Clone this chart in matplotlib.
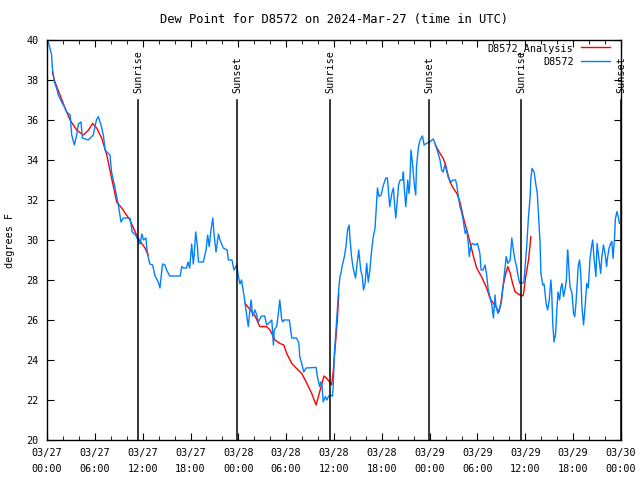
"""Dew point chart for station D8572"""
import matplotlib
matplotlib.use("Agg")
import matplotlib.pyplot as plt

# hours since 03/27 00:00 UTC
obs_hours = [0.16, 0.58, 0.67, 0.92, 1.2, 1.42, 1.84, 2.17, 2.47, 2.9, 3.1, 3.43, 3.72, 3.93,
             4.27, 4.43, 5.18, 5.8, 6.2, 6.44, 6.77, 7.07, 7.28, 7.9, 8.1, 8.53, 8.95, 9.28,
             9.57, 10.4, 10.7, 11.1, 11.67, 11.9, 12.1, 12.4, 12.6, 12.9, 13.25, 13.55, 13.96,
             14.17, 14.38, 14.5, 14.8, 15.0, 15.4, 16.7, 16.9, 17.1, 17.5, 17.7, 17.9, 18.15,
             18.35, 18.45, 18.65, 18.85, 19.0, 19.6, 19.95, 20.15, 20.35, 20.57, 20.8, 20.95,
             21.2, 21.5, 21.7, 22.1, 22.6, 22.75, 23.2, 23.45, 23.8, 24.0, 24.2, 24.4, 24.7,
             24.96, 25.1, 25.25, 25.5, 25.6, 25.8, 26.1, 26.3, 26.5, 26.9, 27.3, 27.55, 27.97,
             28.2, 28.4, 28.5, 28.8, 29.0, 29.2, 29.45, 29.6, 29.7, 30.4, 30.7, 31.3, 31.6,
             31.7, 31.95, 32.2, 32.5, 33.75, 33.9, 34.2, 34.35, 34.5, 34.65, 34.9, 35.1, 35.3,
             35.5, 35.8, 35.9, 36.05, 36.25, 36.45, 36.6, 36.75, 36.9, 37.05, 37.3, 37.5, 37.7,
             37.9, 38.0, 38.2, 38.4, 38.7, 38.9, 39.1, 39.35, 39.55, 39.7, 39.9, 40.1, 40.3,
             40.5, 40.7, 40.9, 41.15, 41.25, 41.45, 41.65, 41.9, 42.2, 42.5, 42.7, 42.9, 43.0,
             43.25, 43.45, 43.65, 43.75, 43.9, 44.1, 44.3, 44.6, 44.7, 44.8, 45.0, 45.25, 45.4,
             45.5, 45.65, 45.8, 45.95, 46.1, 46.25, 46.35, 46.6, 46.8, 47.1, 47.3, 47.6, 48.0,
             48.45, 48.75, 49.0, 49.3, 49.5, 49.7, 49.9, 50.1, 50.35, 50.7, 50.95, 51.25, 51.4,
             51.6, 51.8, 52.0, 52.2, 52.45, 52.65, 52.85, 52.97, 53.15, 53.35, 53.7, 54.0, 54.3,
             54.45, 54.7, 54.95, 55.15, 55.35, 55.55, 55.8, 56.0, 56.2, 56.3, 56.55, 56.8, 57.0,
             57.2, 57.45, 57.6, 57.8, 58.1, 58.3, 58.5, 58.7, 58.9, 59.1, 59.3, 59.55, 59.8,
             59.96, 60.17, 60.38, 60.6, 60.7, 60.84, 61.1, 61.3, 61.5, 61.65, 61.85, 61.95,
             62.2, 62.35, 62.5, 62.6, 62.8, 63.0, 63.2, 63.3, 63.44, 63.6, 63.8, 63.95, 64.1,
             64.3, 64.45, 64.6, 64.8, 65.0, 65.15, 65.3, 65.4, 65.6, 65.85, 66.05, 66.2, 66.35,
             66.5, 66.65, 66.8, 66.95, 67.1, 67.3, 67.4, 67.5, 67.7, 67.9, 68.1, 68.3, 68.45,
             68.6, 68.85, 69.0, 69.25, 69.45, 69.6, 69.8, 70.0, 70.2, 70.3, 70.5, 70.7, 70.85,
             71.0, 71.2, 71.3, 71.5, 71.7, 71.8]
obs_dewpt = [39.9, 39.25, 38.6, 37.9, 37.6, 37.25, 36.9, 36.67, 36.4, 36.25, 35.25, 34.75, 35.25, 35.8,
             35.9, 35.1, 35.0, 35.25, 36.0, 36.17, 35.75, 35.25, 34.5, 34.25, 33.4, 32.6, 31.75, 30.9,
             31.1, 31.1, 30.4, 30.25, 29.8, 30.3, 30.0, 30.1, 29.3, 28.8, 28.75, 28.2, 27.9,
             27.6, 28.4, 28.8, 28.75, 28.5, 28.2, 28.2, 28.67, 28.6, 28.6, 28.9, 28.6, 29.8,
             28.8, 29.2, 30.4, 29.75, 28.9, 28.9, 29.5, 30.25, 29.67, 30.5, 31.1, 30.3,
             29.4, 30.3, 30.0, 29.6, 29.5, 29.0, 29.0, 28.5, 28.75, 28.2, 27.8, 28.0, 27.25,
             26.5, 26.1, 25.67, 26.67, 27.0, 26.2, 26.5, 26.25, 25.9, 26.2, 26.2, 25.75, 25.9,
             26.0, 24.75, 25.5, 25.67, 26.25, 27.0, 26.0, 25.9, 26.0, 26.0, 25.1, 25.1, 24.83,
             24.17, 23.83, 23.4, 23.6, 23.63, 23.2, 22.67, 22.9, 22.7, 21.9, 22.17, 22.0, 22.17,
             22.25, 22.2, 22.67, 24.33, 25.5, 26.67, 27.6, 28.17, 28.4, 28.75, 29.17, 29.67, 30.5,
             30.75, 30.1, 29.17, 28.6, 28.1, 28.83, 29.5, 28.5, 28.17, 27.5, 27.83, 28.83, 27.9,
             28.5, 29.4, 30.1, 30.6, 31.25, 32.6, 32.17, 32.25, 32.75, 33.1, 33.1, 32.1, 31.67,
             32.33, 32.6, 31.5, 31.1, 31.83, 32.75, 33.0, 33.0, 33.4, 32.67, 31.67, 33.0, 32.33,
             32.7, 34.5, 34.0, 33.33, 32.67, 32.25, 33.67, 34.67, 35.0, 35.2, 34.75, 34.83, 34.9,
             35.05, 34.75, 34.4, 34.0, 33.5, 33.4, 33.75, 33.5, 33.1, 32.9, 33.0, 33.0, 32.75,
             32.17, 31.67, 31.4, 31.0, 30.33, 30.5, 29.83, 29.17, 29.67, 29.83, 29.75, 29.83, 29.33,
             28.5, 28.5, 28.75, 28.25, 27.5, 27.17, 26.75, 26.1, 27.25, 26.75, 26.33, 26.6, 26.9,
             27.67, 28.67, 29.17, 28.83, 29.0, 30.1, 29.5, 29.0, 28.67, 28.17, 27.83, 27.87, 27.85,
             28.58, 29.67, 31.08, 32.17, 33.08, 33.58, 33.4, 32.83, 32.33, 31.25, 29.83, 28.33,
             27.75, 27.8, 27.25, 26.83, 26.5, 27.0, 28.0, 27.5, 25.83, 24.9, 25.33, 26.5, 27.4,
             27.0, 27.6, 27.83, 27.17, 27.6, 28.0, 29.5, 29.0, 27.67, 27.33, 26.33, 26.17, 26.83,
             27.75, 28.75, 29.0, 28.33, 26.67, 25.75, 26.2, 26.67, 27.83, 27.6, 29.0, 29.67, 30.0,
             29.17, 28.17, 29.83, 29.0, 28.33, 29.17, 29.75, 29.33, 28.67, 29.08, 29.58, 29.83, 29.92,
             29.08, 30.17, 31.08, 31.42, 31.08, 30.83]

# analysis series, three separate runs
ana1_hours = [0.67, 1.0, 1.63, 2.26, 2.89, 3.72, 4.56, 5.2, 5.73, 6.23, 6.85, 7.5, 8.1, 8.74,
              9.37, 10.4, 11.4, 12.3, 12.7]
ana1_dewpt = [38.4, 37.9, 37.25, 36.6, 36.0, 35.5, 35.25, 35.5, 35.83, 35.6, 35.1, 34.25, 33.1, 31.9,
              31.6, 31.0, 30.1, 29.6, 29.25]
ana2_hours = [24.84, 25.5, 26.1, 26.7, 27.55, 27.97, 28.6, 29.2, 29.7, 30.1, 30.7, 31.3, 31.95,
              32.6, 33.2, 33.75, 34.15, 34.75, 35.1, 35.5, 35.7, 35.9, 36.1, 36.3, 36.4, 36.5, 36.6]
ana2_dewpt = [26.83, 26.5, 26.2, 25.67, 25.67, 25.5, 25.0, 24.83, 24.75, 24.3, 23.83, 23.58, 23.33,
              22.83, 22.33, 21.75, 22.33, 23.2, 23.08, 22.87, 22.75, 23.4, 24.4, 25.4, 25.9, 26.6, 27.3]
ana3_hours = [48.7, 49.3, 49.7, 50.0, 50.25, 50.55, 50.95, 51.4, 51.8, 52.2, 52.65, 53.1, 53.5,
              53.9, 54.5, 55.15, 55.55, 56.0, 56.4, 56.7, 56.95, 57.2, 57.5, 57.8, 58.1, 58.4,
              58.7, 59.1, 59.55, 59.75, 60.05, 60.4, 60.7]
ana3_dewpt = [34.75, 34.33, 34.08, 33.75, 33.33, 32.9, 32.6, 32.33, 31.9, 31.17, 30.5, 29.83, 29.17,
              28.6, 28.17, 27.6, 27.1, 26.83, 26.6, 26.4, 26.9, 27.67, 28.25, 28.67, 28.33, 27.83,
              27.42, 27.3, 27.2, 27.25, 28.17, 29.0, 30.17]

event_hours = [11.45, 23.87, 35.54, 47.95, 59.5, 72.0]
event_names = ["Sunrise", "Sunset", "Sunrise", "Sunset", "Sunrise", "Sunset"]

tick_hours = list(range(0, 73, 6))
tick_labels = ["03/27\n00:00", "03/27\n06:00", "03/27\n12:00", "03/27\n18:00",
               "03/28\n00:00", "03/28\n06:00", "03/28\n12:00", "03/28\n18:00",
               "03/29\n00:00", "03/29\n06:00", "03/29\n12:00", "03/29\n18:00",
               "03/30\n00:00"]

plt.rcParams["font.family"] = ["DejaVu Sans Mono"]
plt.rcParams["font.size"] = 7.3

fig = plt.figure(figsize=(6.4, 4.8), dpi=100)
ax = fig.add_axes([47 / 640, 40 / 480, 574 / 640, 400 / 480])

red = "#ff0000"
blue = "#0080ff"
ax.plot(ana1_hours, ana1_dewpt, color=red, lw=1.0, label="D8572_Analysis")
ax.plot(ana2_hours, ana2_dewpt, color=red, lw=1.0)
ax.plot(ana3_hours, ana3_dewpt, color=red, lw=1.0)
ax.plot(obs_hours, obs_dewpt, color=blue, lw=1.0, label="D8572")

for h, name in zip(event_hours, event_names):
    ax.plot([h, h], [20, 37.0], color="black", lw=1.1)
    ax.text(h, 37.35, name, rotation=90, ha="center", va="bottom")

ax.set_xlim(0, 72)
ax.set_ylim(20, 40)
ax.set_xticks(tick_hours)
ax.set_xticklabels(tick_labels, linespacing=1.65)
ax.set_xticks(range(0, 73, 2), minor=True)
ax.set_yticks(range(20, 41, 2))
ax.tick_params(which="both", direction="in", top=True, right=True, pad=6)
ax.tick_params(which="major", length=5)
ax.tick_params(which="minor", length=3)
for s in ax.spines.values():
    s.set_linewidth(1.0)

ax.set_ylabel("degrees F", va="center")
ax.yaxis.set_label_coords(-37 / 574, 0.5)
ax.set_title("Dew Point for D8572 on 2024-Mar-27 (time in UTC)", pad=12)
ax.legend(loc="upper right", bbox_to_anchor=(563 / 574, 0.9925), frameon=False,
          markerfirst=False, handlelength=2.9, borderpad=0, borderaxespad=0,
          labelspacing=0.3, handletextpad=0.7)

fig.savefig("out.png", dpi=100)
